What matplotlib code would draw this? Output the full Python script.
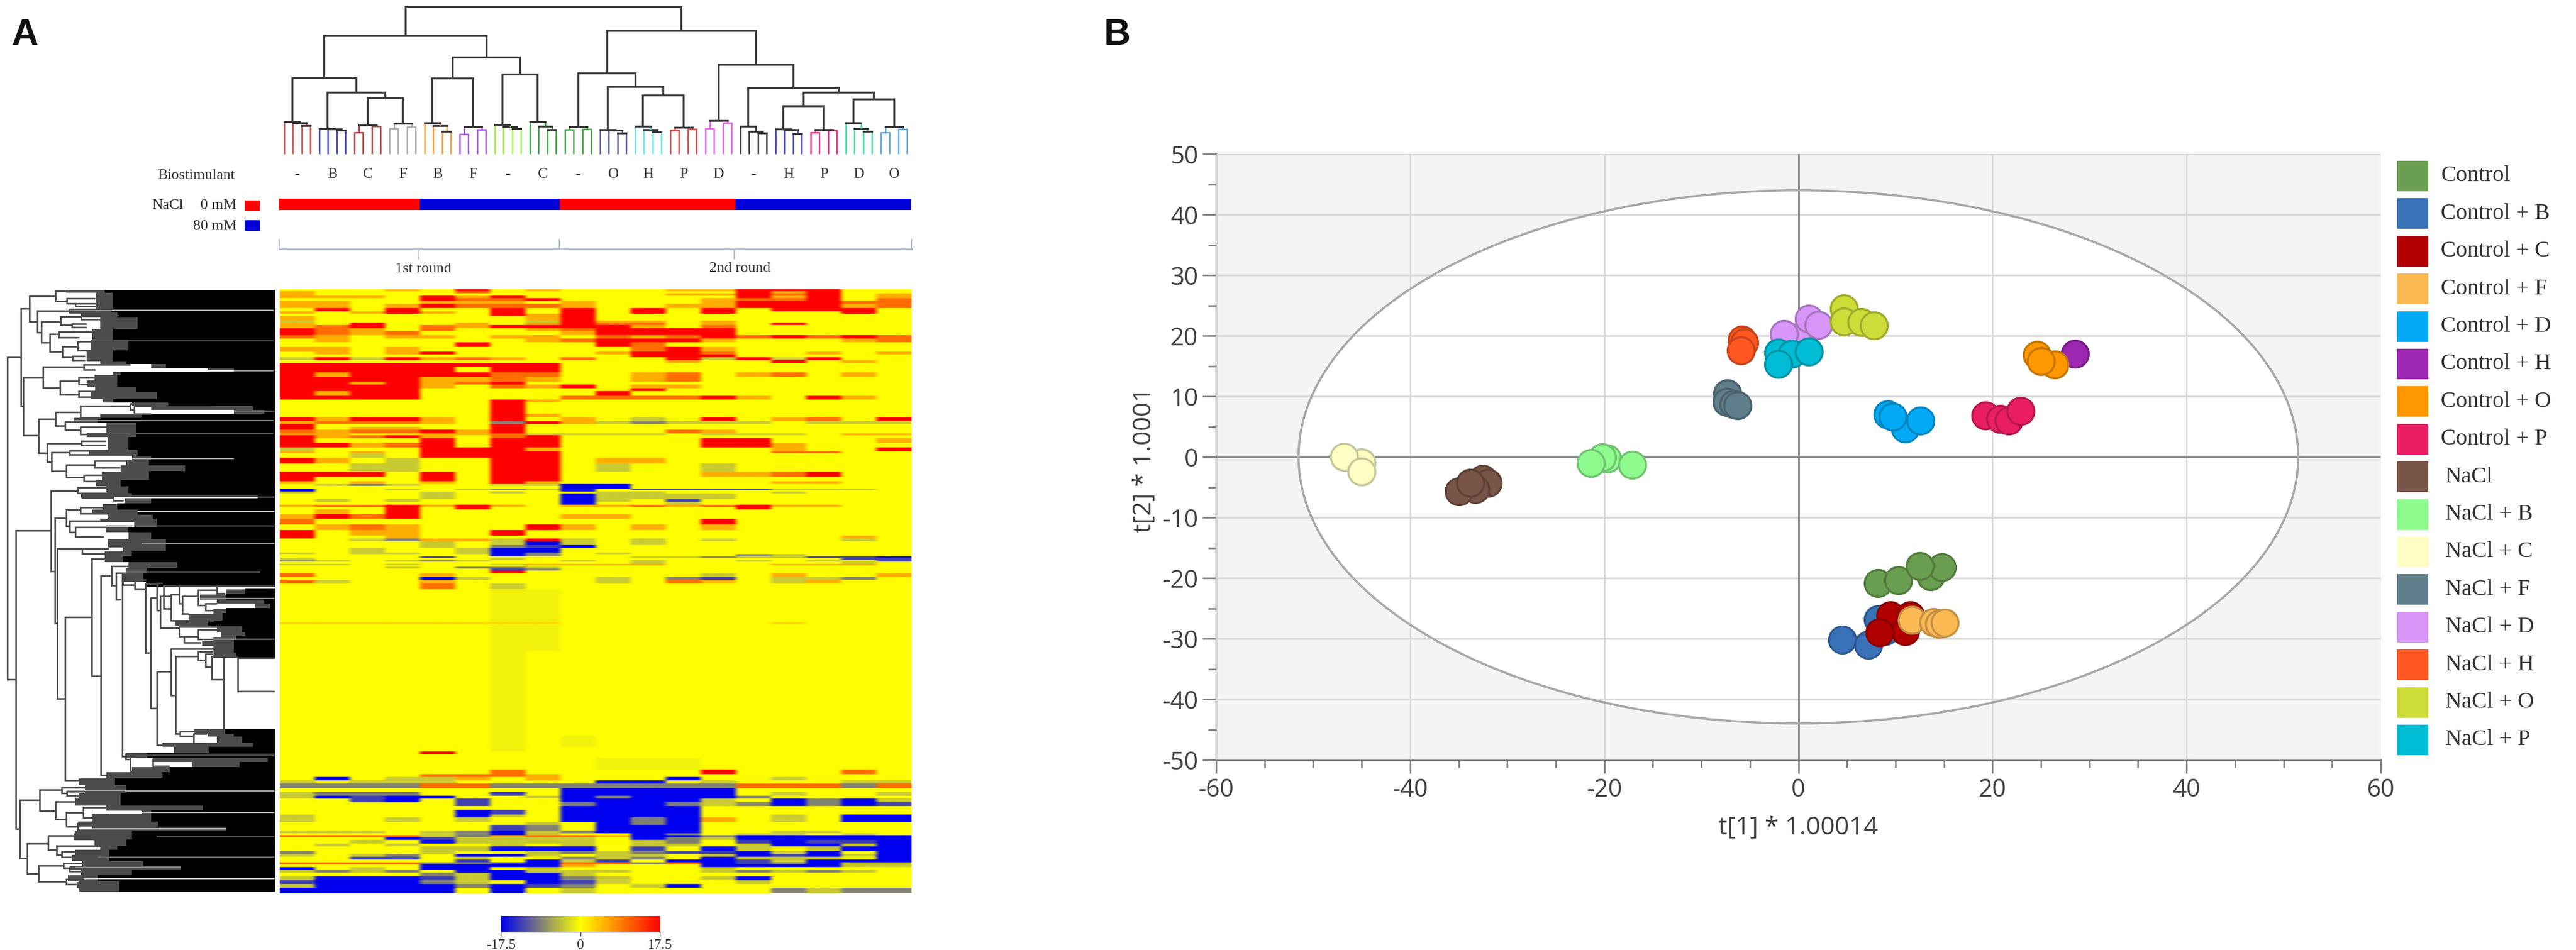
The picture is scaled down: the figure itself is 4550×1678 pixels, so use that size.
import numpy as np
import matplotlib
matplotlib.use("Agg")
import matplotlib.pyplot as plt
from matplotlib.colors import LinearSegmentedColormap, to_rgb
from matplotlib.patches import Ellipse, Rectangle
from matplotlib.ticker import MultipleLocator

plt.rcParams["axes.unicode_minus"] = False
W, H = 4550, 1678
SERIF = ["Liberation Serif", "DejaVu Serif"]
SANS = ["Open Sans", "DejaVu Sans"]

# ---------- panel B data ----------
series_names = ["Control", "Control + B", "Control + C", "Control + F", "Control + D", "Control + H",
                "Control + O", "Control + P", "NaCl", "NaCl + B", "NaCl + C", "NaCl + F", "NaCl + D",
                "NaCl + H", "NaCl + O", "NaCl + P"]
series_colors = ["#6a9e50", "#3a72b8", "#b00000", "#fbb954", "#03a9f4", "#9c27b0", "#ff9800", "#e91e63",
                 "#795548", "#8efa8e", "#fdfdc4", "#607d8b", "#d896f8", "#ff5722", "#cddc39", "#00bcd4"]
series_x = [[8.2, 10.3, 13.6, 14.8, 12.5], [4.5, 7.2, 8.2, 8.9], [9.5, 11.5, 11.0, 8.4], [11.7, 13.9, 14.5, 15.1],
            [11.0, 9.2, 9.7, 12.6], [28.5], [26.4, 24.6, 25.0], [19.3, 20.8, 21.7, 22.9],
            [-32.5, -32.0, -33.3, -35.0, -33.8], [-19.7, -20.2, -21.4, -17.1], [-45.0, -46.8, -45.0],
            [-7.3, -7.4, -6.7, -6.3], [-0.2, -1.5, 1.1, 2.1], [-5.8, -5.6, -5.9], [4.7, 4.7, 6.5, 7.8],
            [-2.1, -0.7, 1.1, -2.1]]
series_y = [[-20.8, -20.4, -19.7, -18.2, -18.0], [-30.2, -31.0, -26.8, -28.8], [-26.2, -26.2, -28.8, -29.0],
            [-26.9, -27.3, -27.6, -27.4], [4.7, 7.0, 6.6, 6.0], [17.0], [15.2, 16.8, 15.8], [6.8, 6.3, 6.0, 7.6],
            [-3.6, -4.3, -5.3, -5.7, -4.3], [-0.3, -0.1, -1.0, -1.3], [-0.9, 0.0, -2.4],
            [10.5, 9.1, 8.7, 8.5], [19.7, 20.3, 22.8, 21.8], [19.3, 18.9, 17.6], [24.5, 22.3, 22.2, 21.7],
            [17.2, 17.0, 17.4, 15.3]]
ellipse_radii = (51.5, 44.0)

# ---------- panel A data ----------
group_labels = ["-", "B", "C", "F", "B", "F", "-", "C", "-", "O", "H", "P", "D", "-", "H", "P", "D", "O"]
group_colors = ["#e05050", "#3a3ad0", "#a84040", "#aaaaaa", "#f0a040", "#a050e0", "#a0f040", "#30a040", "#40a040",
                "#5050a0", "#60e8e8", "#e04040", "#e060e0", "#303030", "#4040c0", "#e03080", "#40e0a0", "#60a0e0"]
# internal shape and merge levels of the four replicates in each group
group_shape = ["c", "c", "p", "p", "c", "p", "c", "c", "p", "c", "c", "p", "p", "c", "c", "p", "c", "p"]
group_levels = [(645, 650, 665), (680, 685, 690), (663, 703, 670), (655, 680, 672), (650, 665, 695), (672, 712, 687),
                (660, 672, 680), (645, 670, 688), (672, 688, 685), (688, 690, 705), (668, 688, 700), (675, 690, 683),
                (640, 680, 650), (670, 697, 705), (683, 688, 708), (688, 703, 690), (650, 680, 695), (672, 703, 685)]
# column tree: (level, first child, second child); ints are groups
column_tree = (35,
               (190,
                (410, 0, (488, 1, (520, 2, 3))),
                (302, (413, 4, 5), (392, 6, 7))),
               (163,
                (387, 8, (460, 9, (503, 10, 11))),
                (343, 12, (466, 13, (490, (562, 14, 15), (525, 16, 17))))))
treatment_segments = [(0, 16, "#ff0000"), (16, 32, "#0000d8"), (32, 52, "#ff0000"), (52, 72, "#0000d8")]

level_values = {".": 0, "c": 2.5, "o": 5.5, "O": 10, "R": 17.5, "f": -0.9, "g": -3.6, "G": -8.5, "N": -13, "B": -17.5}
hm_rows = [
    (10, "...o.R .o...o oRRR.."), (12, "o....O ...... .RoR.."), (12, "o..... .....o oROR.o"),
    (13, "ooo.Ro R..... .RoR.o"), (15, "....RO OR.... oOOR.O"), (15, "oo..oo o.o... oRRROO"),
    (23, "oo.oRO OOo..o oRRRoO"), (17, ".R.R.. R.R.R. R.RRR."), (13, "o.oRo. R.R.R. R...R."),
    (12, "...... RoR... ......"), (25, "o..... .oR... ......"), (10, "g..... .gRoo. o....."),
    (13, "o.R..o .oROO. o.R..."), (17, "oOR.Oo RRRRo. O....."), (15, "ROo.O. .oORRR R....."),
    (22, "ROoO.. ..oRRR R....."), (18, "Oo.oo. oo.OoO RORORO"), (20, ".o.... .oORRR o...oO"),
    (25, ".....R ...RO. ......"), (25, "oo.o.. ....OR o....."), (15, ".o.oR. ...oRR O..o.o"),
    (15, "...... ....RR R....."), (15, "gRgRoO o.O..R gRgR.."), (15, "...... .....o ..R.o."),
    (20, "RRRRRR RR.... ......"), (30, "RRRRR. RR.... ......"), (25, "RoRRRR OO..oO .oO.o."),
    (25, "RRRRoo Oo..oO ......"), (15, "RRoRoO R..... ......"), (20, "RRRRo. OoR.oo ......"),
    (15, "RRRR.. ....R. ......"), (25, "RoRR.. ...R.. ......"), (20, "RRRR.. ..OOOO Ro.Ro."),
    (15, "...... Ro.... ......"), (60, "...... R..... ......"), (20, "...... Ro.... ......"),
    (20, "RoRRo. R.o.g. R.oO.R"), (15, "oOOOo. GRogGg gg.ggg"), (15, "R..... R..... ......"),
    (15, "R.oo.. R..... ......"), (20, "OoOORo R....O o....."), (10, "oo..oo Ogggg. ggg.oo"),
    # ---- second crop
    (15, "RoORo. OR.... ......"), (25, "R...R. RR.... RR...o"), (25, "RRoOR. RR.... RRo..."),
    (20, "g...RR Ro.... ..o..R"), (10, "o.o.RR RR.... ..OO.."), (25, "..g.RR RR.... ......"),
    (30, "Ro.g.. RR.oo. ......"), (45, "..gg.. RR.g.. g....."), (27, "RRR.R. RR.... ooOR.."),
    (23, "R...R. RR.... ......"), (15, "o.o.o. Ro.... ..oo.."), (10, ".gGg.. ggBB.. ......"),
    (15, "...... ..BB.. ......"), (8, "B..g.g GgB.NN NNggg."), (7, "B..... ..B... ......"),
    (10, "g...g. g..gg. ..g..."), (30, "....g. ..Bggg g....."),
    (15, ".g.g.. ..Bg.N ......"), (15, "...... ..B..g ......"), (12, "oOORoR o.ooOo ORoo.."), (13, "...R.R ...... .R...."),
    (25, ".o.R.. ...... ......"), (25, "oROR.. ..oo.. ......"), (30, "O..... ...... R....."),
    (30, ".oOo.. .Ro.o. o....."), (30, "R.oo.. R..... ......"), (15, "R..o.. ...... ....o."),
    (15, "..gGoo gRg.g. g...g."), (20, "....g. gBg.g. ......"), (15, "....g. GNB... ......"),
    (25, "..g..g BB.... ......"), (8, "g.gg.g BG.g.. ......"), (12, "...... BG.... .Gg..."),
    (8, "....N. ....gg GggNNB"), (12, "g..... g..... ....NN"),
    (8, "Gg.gGg ..g.g. .g.g.N"), (12, "...... ....g. ....g."), (8, "gg.g.. goooo. ..ooo."), (7, "...... ...... ......"), (10, "...g.G Gg.... ......"),
    (10, "...... NG.... ......"), (15, "...... R..... ......"), (20, "O...o. ...... g.o..o"),
    (15, "....Bg ...g.G N.ggG."), (20, "Og..o. ...g.O o.go.."), (30, "....O. g..... ......"),
    # ---- mostly yellow middle
    (174, "...... ff.... ......"), (12, "cccccc cc.... ..c..."), (144, "...... ff.... ......"),
    (450, "...... f..... ......"), (60, "...... f.f... ......"), (24, "...... f..... ......"),
    (15, "....R. ...... ......"), (21, "...... ...... ......"),
    # ---- last crop
    (60, "...... ...fff ......"), (25, "...... O..... R...O."), (15, "....OO Oo.... ......"),
    (18, ".B.ggo .o...B ..g..."), (17, "g.ggg. ...BB. g...gg"), (25, "GGGGOO GGGGGG GOOOGO"),
    (20, "...... ..BBBB B....."), (20, "gGGG.. N.BBBB B.g..g"), (15, "gBNBB. .gBGBB BG...."),
    (20, "..NB.N ..BBBB g.BGBg"), (20, ".....N ..GBBG gGBGBN"), (20, "...... ..BBBB ......"),
    (25, ".....B N.BBBB ......"), (15, "g....B g.BBBB ..g.BB"), (25, "g..g.g ..BBGB o.g.BB"),
    (15, "...... .g.BGB ......"), (30, "...... NG.BBB ......"), (15, "ggg.gG BgGBBB ..gg.."),
    (10, "....gG Bg..BG .gg.g."), (10, "OOOOgG oOOoBB GBBBBB"), (15, "...BNg ggg.BG gBBBBB"),
    (20, "..g.Bg ggg.gG .NBNNB"), (15, ".g.g.. g.g.gg .gBBgB"), (25, "....gg BBB.N. Bg.gBB"),
    (15, "G...g. .gGgGN NBgB.B"), (15, "g.gG.B Bg.gg. gBNBgB"), (15, "..NN.g ..GgG. Bggg.B"),
    (15, ".....N .BgN.B BNgBBB"), (10, "OOOOGG NBOOGO BNGBgg"), (15, "....BB BBo... BBBBgg"),
    (15, "B.g.BB .g.... g....."), (15, "gGgG.B Bggg.. gGgGg."), (20, "....Gg BBg... ......"),
    (20, "gBBBNg BBGg.. gB...."), (20, "NBBBGg .BNg.. .g...."), (20, "gBBBBG BNG.gB ......"),
    (30, "BBBBB. B.g... ..GgGG"),
]

# row dendrogram: vertical at x, from y_top to y_bottom, arms reaching x_top / x_bottom
upper_merges = [
    (293, 42, 92, 350, 355), (155, 68, 197, 293, 198), (355, 78, 105, 505, 400), (400, 105, 120, 540, 540),
    (110, 130, 630, 155, 122), (122, 483, 780, 228, 203), (198, 143, 252, 365, 220), (365, 132, 150, 590, 590),
    (220, 197, 305, 322, 265), (322, 170, 215, 430, 380), (430, 165, 185, 630, 530), (380, 210, 225, 460, 460),
    (265, 262, 350, 312, 330), (312, 250, 277, 490, 420), (330, 325, 380, 410, 385), (410, 300, 345, 480, 480),
    (385, 375, 393, 450, 450), (228, 430, 537, 445, 318), (445, 418, 445, 690, 505), (318, 503, 570, 418, 418),
    (418, 483, 520, 500, 460), (418, 553, 583, 505, 480), (203, 695, 870, 295, 248), (295, 660, 730, 425, 345),
    (425, 630, 690, 690, 530), (690, 618, 650, 815, 710), (710, 630, 670, 1120, 800), (345, 710, 750, 390, 425),
    (425, 738, 775, 565, 460), (248, 820, 915, 432, 272), (432, 808, 830, 560, 560), (272, 868, 962, 370, 350),
    (370, 858, 878, 470, 470), (350, 930, 995, 502, 445), (502, 910, 945, 665, 635), (445, 982, 1015, 540, 510),
    (270, 1065, 1475, 412, 290), (412, 1048, 1075, 565, 435), (435, 1075, 1100, 560, 600), (600, 1090, 1115, 1365, 655),
    (350, 1160, 1245, 425, 370), (425, 1147, 1180, 545, 490), (370, 1217, 1275, 530, 400), (400, 1250, 1300, 560, 550),
    (435, 1360, 1387, 575, 555), (575, 1325, 1348, 655, 655), (715, 1520, 1568, 775, 775), (650, 1515, 1545, 715, 715),
]
span_merges = [
    (40, 631, 1200, 110, 85), (85, 937, 1464, 270, 105), (290, 915, 1101, 350, 302), (302, 969, 1234, 435, 345),
    (487, 987, 1194, 555, 535), (535, 1017, 1369, 585, 565), (590, 1000, 1034, 680, 615), (615, 1012, 1059, 665, 640),
    (648, 1021, 1336, 710, 665), (770, 1031, 1153, 830, 797),
]
lower_merges = [
    (345, 168, 975, 487, 420), (797, 72, 620, 830, 830), (830, 0, 135, 860, 848), (848, 65, 222, 905, 950),
    (868, 10, 125, 950, 905), (905, 55, 185, 950, 1130), (950, 15, 100, 1150, 965), (965, 65, 150, 1050, 1000),
    (1050, 33, 110, 1150, 1090), (1150, 15, 50, 1455, 1190), (1090, 100, 135, 1150, 1130), (950, 215, 262, 1150, 975),
    (975, 262, 295, 1050, 1065), (1050, 230, 278, 1150, 1130), (830, 438, 800, 905, 860), (905, 325, 555, 1130, 930),
    (930, 362, 745, 1050, 955), (1050, 340, 382, 1125, 1090), (1090, 350, 415, 1125, 1122), (1122, 360, 475, 1185, 1185),
    (1185, 365, 730, 1260, 1190), (1260, 370, 535, 1455, 1455), (955, 735, 755, 1025, 1025), (1025, 745, 795, 1095, 1095),
    (665, 845, 870, 1455, 690), (690, 860, 930, 780, 760), (810, 870, 905, 970, 900),
    (420, 968, 985, 565, 500), (105, 1072, 1360, 210, 145), (210, 1022, 1125, 328, 295), (328, 1010, 1040, 450, 355),
    (355, 1030, 1050, 660, 420), (295, 1080, 1168, 400, 350), (350, 1135, 1205, 440, 410), (440, 1110, 1158, 565, 485),
    (410, 1188, 1220, 650, 490), (145, 1287, 1437, 255, 205), (255, 1250, 1318, 395, 300), (395, 1240, 1265, 560, 445),
    (300, 1300, 1345, 530, 328), (328, 1328, 1355, 400, 380), (205, 1397, 1475, 335, 350), (335, 1385, 1408, 435, 370),
    (370, 1405, 1425, 395, 430), (350, 1465, 1490, 445, 410), (410, 1480, 1505, 420, 420),
]
# dense leaf band: y from, y to, where the grey begins, where solid black begins
upper_band = [
    (35, 50, 350, 555), (50, 130, 510, 600), (130, 150, 370, 590), (150, 175, 430, 620), (175, 235, 530, 730),
    (235, 290, 490, 600), (290, 345, 480, 680), (345, 400, 460, 600), (400, 415, 530, 670), (415, 435, 800, 880),
    (435, 455, 1100, 1240), (455, 470, 600, 640), (470, 500, 500, 620), (500, 530, 460, 620), (530, 560, 505, 720),
    (560, 595, 480, 830), (595, 612, 545, 600), (612, 630, 700, 890), (630, 650, 800, 1340), (650, 670, 1240, 1400),
    (670, 690, 530, 750), (690, 715, 390, 520), (715, 770, 565, 720), (770, 790, 460, 720), (790, 855, 570, 680),
    (855, 885, 470, 730), (885, 905, 700, 800), (905, 935, 670, 790), (935, 965, 640, 980), (965, 1010, 540, 790),
    (1010, 1040, 510, 640), (1040, 1075, 565, 680), (1075, 1100, 430, 700), (1100, 1130, 660, 800), (1130, 1160, 545, 620),
    (1160, 1185, 490, 730), (1185, 1205, 570, 810), (1205, 1225, 530, 830), (1225, 1250, 710, 830), (1250, 1275, 560, 680),
    (1275, 1310, 680, 800), (1310, 1345, 570, 880), (1345, 1375, 650, 880), (1375, 1400, 555, 700), (1400, 1430, 555, 650),
    (1430, 1460, 680, 940), (1460, 1490, 665, 780), (1490, 1530, 645, 760), (1530, 1555, 775, 775),
]
lower_band = [
    (30, 55, 1200, 1300), (55, 80, 1060, 1200), (80, 100, 1150, 1400), (100, 125, 1350, 1430), (125, 150, 1130, 1200),
    (150, 185, 1000, 1180), (185, 210, 930, 1100), (210, 240, 1150, 1280), (240, 265, 1170, 1300), (265, 285, 1130, 1250),
    (285, 310, 1070, 1240), (310, 345, 1130, 1240), (345, 370, 1130, 1250), (722, 745, 1025, 1190), (745, 760, 1100, 1240),
    (760, 790, 1150, 1280), (790, 810, 860, 1340), (810, 840, 920, 1110), (840, 865, 665, 780), (865, 885, 810, 1420),
    (885, 910, 1020, 1270), (910, 935, 700, 900), (935, 965, 565, 860), (965, 1000, 420, 610), (1000, 1040, 450, 670),
    (1040, 1060, 420, 640), (1060, 1100, 400, 640), (1100, 1125, 565, 1075), (1125, 1140, 750, 800), (1140, 1180, 485, 800),
    (1180, 1205, 415, 840), (1205, 1225, 490, 1200), (1225, 1270, 395, 700), (1270, 1300, 500, 670), (1300, 1320, 530, 620),
    (1320, 1345, 400, 580), (1345, 1375, 380, 580), (1375, 1400, 435, 760), (1400, 1420, 370, 960), (1420, 1445, 430, 700),
    (1445, 1475, 360, 520), (1475, 1525, 420, 630),
]
# single leaves showing through the black: y, x from, x to, colour
upper_streaks = [
    (140, 370, 1450, "#b0b0b0"), (450, 505, 1240, "#ffffff"), (450, 1240, 1450, "#909090"), (705, 390, 1450, "#a0a0a0"),
    (770, 460, 1450, "#555555"), (1100, 600, 1365, "#eeeeee"), (1096, 1365, 1455, "#808080"), (1170, 730, 1455, "#d0d0d0"),
    (1245, 560, 1455, "#777777"), (1335, 750, 1455, "#888888"), (1480, 665, 1380, "#999999"), (297, 480, 1450, "#555555"),
    (898, 700, 1240, "#aaaaaa"), (655, 1240, 1455, "#888888"),
]
lower_streaks = [
    (75, 1060, 1455, "#909090"), (278, 1130, 1455, "#a8a8a8"), (855, 665, 1455, "#555555"), (1027, 355, 1455, "#aaaaaa"),
    (1135, 750, 1455, "#bbbbbb"), (1255, 830, 1455, "#555555"), (1355, 520, 1455, "#666666"), (1462, 440, 1455, "#cccccc"),
    (1215, 490, 1200, "#eeeeee"), (1405, 370, 960, "#888888"),
]

# ---------- helpers ----------
fig = plt.figure(figsize=(W / 100, H / 100), dpi=100, facecolor="white")


def px_axes(x0, y0, x1, y1, **kw):
    return fig.add_axes([x0 / W, 1 - y1 / H, (x1 - x0) / W, (y1 - y0) / H], **kw)


# full-figure layer in pixel units for labels
page = px_axes(0, 0, W, H)
page.set_xlim(0, W)
page.set_ylim(H, 0)
page.axis("off")

# ---------- top dendrogram ----------
dn = px_axes(493, 0, 1610, 280)
dn.set_xlim(-0.58, 71.5)
dn.set_ylim(280, 0)
dn.axis("off")
Y0 = 272


def bracket(ax, xa, ya, xb, yb, level, color, lw):
    ax.plot([xa, xa, xb, xb], [ya, level, level, yb], color=color, lw=lw, solid_joinstyle="miter", solid_capstyle="butt")


def draw_group(g):
    a = g * 4
    col = group_colors[g]
    l1, l2, l3 = [v / 3 for v in group_levels[g]]
    if group_shape[g] == "c":
        xcd = a + 2.5
        bracket(dn, a + 2, Y0, a + 3, Y0, l3, col, 1.8)
        xbcd = (a + 1 + xcd) / 2
        bracket(dn, a + 1, Y0, xcd, l3, l2, col, 1.8)
        dn.plot([a + 2, a + 3], [l3, l3], color="#333333", lw=2.4)
        dn.plot([a + 1, xcd], [l2, l2], color="#333333", lw=2.4)
        bracket(dn, a, Y0, xbcd, l2, l1, col, 1.8)
        dn.plot([a, xbcd], [l1, l1], color="#333333", lw=2.4)
        return (a + xbcd) / 2, l1
    xab, xcd = a + 0.5, a + 2.5
    bracket(dn, a, Y0, a + 1, Y0, l2, col, 1.8)
    bracket(dn, a + 2, Y0, a + 3, Y0, l3, col, 1.8)
    bracket(dn, xab, l2, xcd, l3, l1, col, 1.8)
    dn.plot([xab, xcd], [l1, l1], color="#333333", lw=2.4)
    return (xab + xcd) / 2, l1


def draw_tree(node):
    if isinstance(node, int):
        return draw_group(node)
    level, left, right = node
    xl, yl = draw_tree(left)
    xr, yr = draw_tree(right)
    bracket(dn, xl, yl, xr, yr, level / 3, "#3a3a3a", 2.5)
    return (xl + xr) / 2, level / 3


draw_tree(column_tree)

# ---------- group labels, treatment bar, bracket ----------
tb = px_axes(493, 290, 1610, 485)
tb.set_xlim(-0.58, 71.5)
tb.set_ylim(485, 290)
tb.axis("off")
for g, lab in enumerate(group_labels):
    tb.text(g * 4 + 1.5, 308, lab, ha="center", va="center", family=SERIF, fontsize=19, color="#333333")
for start, stop, col in treatment_segments:
    tb.barh(361, stop - start, left=start - 0.58, height=20, color=col, linewidth=0)

brace = "#a9bcd9"
page.plot([493, 1610], [440, 440], color=brace, lw=2.2)
for xp in (493, 988, 1610):
    page.plot([xp, xp], [423, 440], color=brace, lw=1.6)
for xp in (740, 1297):
    page.plot([xp, xp], [440, 457], color=brace, lw=1.6)
page.text(748, 475, "1st round", ha="center", va="center", family=SERIF, fontsize=19, color="#333333")
page.text(1307, 474, "2nd round", ha="center", va="center", family=SERIF, fontsize=19, color="#333333")
page.text(278, 310, "Biostimulant", ha="left", va="center", family=SERIF, fontsize=19, color="#333333")
page.text(268, 363, "NaCl", ha="left", va="center", family=SERIF, fontsize=19, color="#333333")
page.text(418, 363, "0 mM", ha="right", va="center", family=SERIF, fontsize=19, color="#333333")
page.text(418, 400, "80 mM", ha="right", va="center", family=SERIF, fontsize=19, color="#333333")
page.add_patch(Rectangle((432, 354), 27, 19, color="#ff0000", lw=0))
page.add_patch(Rectangle((432, 389), 27, 19, color="#0000d8", lw=0))
page.text(20, 62, "A", ha="left", va="center", family=["Liberation Sans"], fontweight="bold", fontsize=47, color="#111111")
page.text(1950, 62, "B", ha="left", va="center", family=["Liberation Sans"], fontweight="bold", fontsize=47, color="#111111")

# ---------- heatmap ----------
cmap = LinearSegmentedColormap.from_list("by", ["#0000f0", "#ffff00", "#ff0000"])
cells = []
for thick, spec in hm_rows:
    s = (spec.replace(" ", "") + "." * 18)[:18]
    row = np.repeat([level_values[c] for c in s], 4)
    cells.append(np.tile(row, (thick, 1)))
matrix = np.vstack(cells)
hm = px_axes(494, 511, 1610, 1578)
im = hm.imshow(matrix, aspect="auto", cmap=cmap, vmin=-17.5, vmax=17.5, interpolation="antialiased")
hm.axis("off")

cb_ax = px_axes(885, 1618, 1166, 1646)
cb = fig.colorbar(im, cax=cb_ax, orientation="horizontal", ticks=[-17.5, 0, 17.5])
cb.outline.set_visible(False)
cb.ax.tick_params(length=6, width=1.2, color="#555555", pad=3)
cb.ax.spines["bottom"].set_visible(True)
cb.ax.set_xticklabels(["-17.5", "0", "17.5"], family=SERIF, fontsize=18, color="#333333")

# ---------- row dendrogram ----------
rd = px_axes(0, 500, 494, 1590)
rd.set_xlim(0, 494)
rd.set_ylim(1590, 500)
rd.axis("off")
y6 = lambda v: 500 + v / 2.9
y7 = lambda v: 1030 + v / 2.8
XR = 1458 / 3
for conv, band, streaks in ((y6, upper_band, upper_streaks), (y7, lower_band, lower_streaks)):
    for a, b, xg, xk in band:
        ya, yb = conv(a), conv(b)
        rd.barh((ya + yb) / 2, XR - xk / 3, left=xk / 3, height=yb - ya + 0.6, color="black", linewidth=0, zorder=2)
        if xk > xg:
            rd.barh((ya + yb) / 2, (xk - xg) / 3, left=xg / 3, height=yb - ya, color="#4c4c4c", linewidth=0, zorder=2)
    for yy, xa, xb, col in streaks:
        rd.plot([xa / 3, xb / 3], [conv(yy), conv(yy)], color=col, lw=1.6, zorder=3, solid_capstyle="butt")


def row_bracket(x, yt, yb, xt, xb):
    rd.plot([xt / 3, x / 3, x / 3, xb / 3], [yt, yt, yb, yb], color="#4a4a4a", lw=2.0,
            solid_joinstyle="miter", solid_capstyle="butt", zorder=4)


for x, a, b, xt, xb in upper_merges:
    row_bracket(x, y6(a), y6(b), xt, xb)
for x, a, b, xt, xb in span_merges:
    row_bracket(x, a, b, xt, xb)
for x, a, b, xt, xb in lower_merges:
    row_bracket(x, y7(a), y7(b), xt, xb)

# ---------- score plot ----------
ax = px_axes(2148, 272, 4205, 1342)
ax.set_xlim(-60, 60)
ax.set_ylim(-50, 50)
ax.set_facecolor("#f4f4f4")
for s in ("top", "right"):
    ax.spines[s].set_visible(False)
for s in ("left", "bottom"):
    ax.spines[s].set_color("#808080")
    ax.spines[s].set_linewidth(2.2)
ax.add_patch(Ellipse((0, 0), 2 * ellipse_radii[0], 2 * ellipse_radii[1], facecolor="white", edgecolor="none", zorder=0.5))
ax.set_xticks(np.arange(-60, 61, 20))
ax.set_yticks(np.arange(-50, 51, 10))
ax.xaxis.set_minor_locator(MultipleLocator(5))
ax.yaxis.set_minor_locator(MultipleLocator(5))
ax.tick_params(which="major", length=17, width=2.0, color="#808080", labelsize=31, labelcolor="#404040", pad=6)
ax.tick_params(which="minor", length=10, width=2.0, color="#808080")
for lab in ax.get_xticklabels() + ax.get_yticklabels():
    lab.set_family(SANS)
ax.set_axisbelow(False)
ax.grid(True, which="major", axis="y", color="#d9d9d9", lw=2.4)
ax.grid(True, which="major", axis="x", color="#d6d6d6", lw=1.8)
ax.axhline(0, color="#8c8c8c", lw=3.0, zorder=2.6)
ax.axvline(0, color="#7a7a7a", lw=2.2, zorder=2.6)
ax.add_patch(Ellipse((0, 0), 2 * ellipse_radii[0], 2 * ellipse_radii[1], facecolor="none", edgecolor="#a8a8a8", lw=2.8, zorder=2.7))
for i, (xs, ys, col) in enumerate(zip(series_x, series_y, series_colors)):
    edge = tuple(c * 0.78 for c in to_rgb(col))
    ax.scatter(xs, ys, s=1180, color=col, edgecolors=[edge], linewidths=2.6, zorder=3 + i * 0.01, clip_on=False)
ax.set_xlabel("t[1] * 1.00014", family=SANS, fontsize=32, color="#404040", labelpad=16)
ax.set_ylabel("t[2] * 1.0001", family=SANS, fontsize=32, color="#404040", va="center")
ax.yaxis.set_label_coords((2022 - 2148) / (4205 - 2148), 0.495)

# legend drawn as swatches and text
for i, (name, col) in enumerate(zip(series_names, series_colors)):
    yc = 311 + 66.4 * i
    page.add_patch(Rectangle((4234, yc - 27), 55, 54, facecolor=col, edgecolor="none"))
    page.text(4311 if name.startswith("Control") else 4319, yc, name, ha="left", va="center", family=SERIF,
              fontsize=29, color="#333333")

fig.savefig("out.png", dpi=100)
